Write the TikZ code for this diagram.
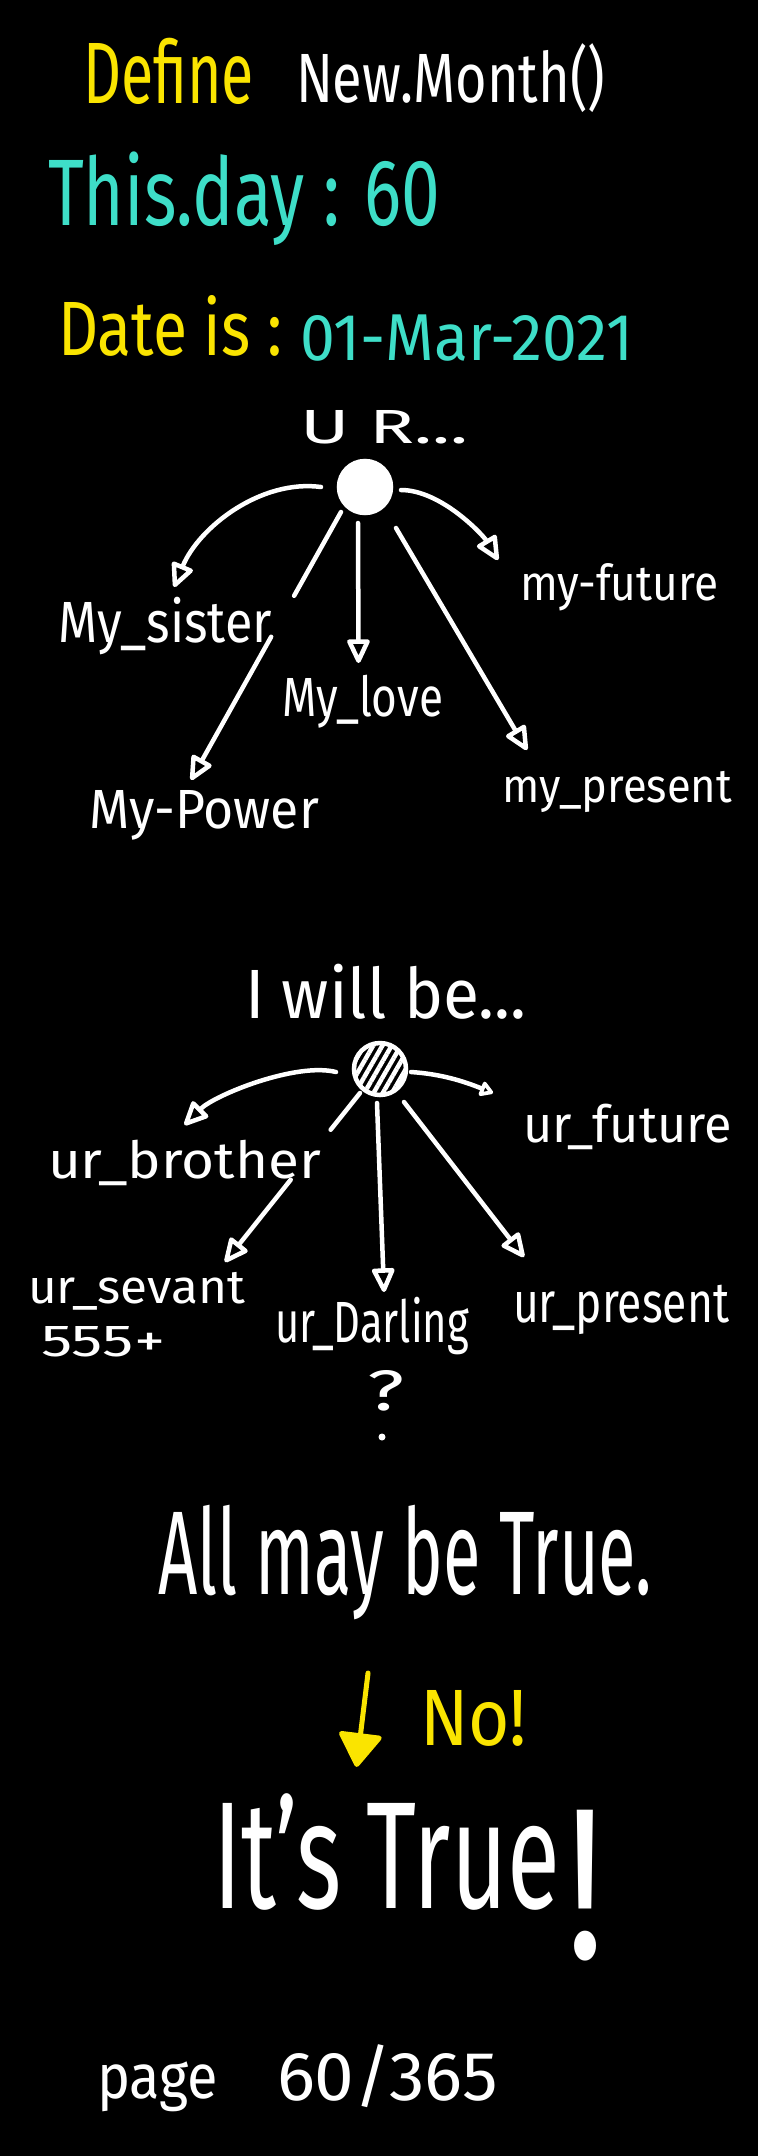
\documentclass[tikz,border=0pt]{standalone}
\usepackage{fontspec}
\setmainfont{Fira Sans}
\usetikzlibrary{arrows.meta,patterns.meta,calc}
\definecolor{hwyellow}{RGB}{250,228,0}
\definecolor{hwcyan}{RGB}{62,222,200}
\newcommand\hwfit[4]{\resizebox{#1pt}{#2pt}{\smash{#4}\vphantom{#3}}}
\begin{document}
\begin{tikzpicture}[x=1pt,y=-1pt,
  lbl/.style={inner sep=0pt,outer sep=0pt,anchor=base west,text=white},
  link/.style={draw=white,line width=4.5pt,line cap=round,
    -{Triangle[open,round,length=27pt,width=24pt]}},
  linksmall/.style={draw=white,line width=4.5pt,line cap=round,
    -{Triangle[open,round,length=15pt,width=17pt]}},
  hub/.style={circle,draw=white,line width=4.5pt,minimum size=52pt,inner sep=0pt}]
\fill[black] (0,0) rectangle (758,2156);
\useasboundingbox (0,0) rectangle (758,2156);

% header
\node[lbl,text=hwyellow] (define) at (83,103) {\hwfit{171}{60}{D}{Define}};
\node[lbl] (newmonth) at (296,102) {\hwfit{309}{48}{H}{New.Month()}};
\node[lbl,text=hwcyan] (thisday) at (48,225) {\hwfit{392}{65}{T}{This.day : 60}};
\node[lbl,text=hwyellow] (dateis) at (58,355) {\hwfit{224}{53}{D}{Date is :}};
\node[lbl,text=hwcyan] (date) at (300,360) {\hwfit{333}{45}{0}{01-Mar-2021}};

% first tree
\node[lbl] (ur) at (300,443) {\hwfit{168}{33}{U}{U R...}};
\node[hub,fill=white] (c1) at (365,487) {};
\node[lbl] (sister) at (58,642) {\hwfit{214}{40}{M}{My\_sister}};
\node[lbl] (future) at (520,600) {\hwfit{198}{26}{x}{my-future}};
\node[lbl] (love) at (282,716) {\hwfit{161}{38}{M}{My\_love}};
\node[lbl] (power) at (89,828) {\hwfit{230}{38}{M}{My-Power}};
\node[lbl] (present) at (502,802) {\hwfit{230}{25}{x}{my\_present}};

\draw[link] ($(c1.center)+(-44,0)$) .. controls +(-60,-8) and +(25,-60) .. ($(sister.north)+(9,-15)$);
\draw[link,dash pattern=on 96pt off 47pt on 400pt] ($(c1.center)+(-24,25)$) -- ($(power.north)+(-13,-10)$);
\draw[link] ($(c1.center)+(-7,36)$) -- ($(love.north)+(-4,-15)$);
\draw[link] ($(c1.center)+(31,41)$) -- ($(present.north west)+(25,-27)$);
\draw[link] ($(c1.center)+(36,3)$) .. controls +(40,0) and +(-15,-25) .. ($(future.north west)+(-22,-14)$);

% second tree
\node[lbl] (willbe) at (245,1018) {\hwfit{281}{48}{I}{I will be...}};
\node[hub,pattern={Lines[angle=60,distance=8pt,line width=4.5pt]},pattern color=white] (c2) at (380,1069) {};
\node[lbl] (brother) at (48,1178) {\hwfit{273}{27}{x}{ur\_brother}};
\node[lbl] (ufuture) at (523,1142) {\hwfit{209}{27}{x}{ur\_future}};
\node[lbl] (servant) at (28,1303) {\hwfit{217}{25}{x}{ur\_sevant}};
\node[lbl] (plus) at (41,1356) {\hwfit{124}{30}{5}{555+}};
\node[lbl] (darling) at (275,1342) {\hwfit{194}{40}{D}{ur\_Darling}};
\node[lbl] (qmark) at (367,1410) {\hwfit{37}{40}{?}{?}};
\node[circle,fill=white,inner sep=0pt,minimum size=7pt] (qdot) at (382,1437) {};
\node[lbl] (upresent) at (513,1322) {\hwfit{216}{30}{x}{ur\_present}};

\draw[link] ($(c2.center)+(-44,3)$) .. controls +(-40,-10) and +(30,-30) .. ($(brother.north)+(0,-26)$);
\draw[link,dash pattern=on 47pt off 64pt on 300pt] ($(c2.center)+(-20,24)$) -- ($(servant.north east)+(-20,-16)$);
\draw[link] ($(c2.center)+(-3,34)$) -- ($(darling.north)+(12,-10)$);
\draw[link] ($(c2.center)+(24,33)$) -- ($(upresent.north west)+(11,-35)$);
\draw[linksmall] ($(c2.center)+(31,3)$) .. controls +(30,2) and +(-30,-12) .. ($(ufuture.north west)+(-30,-22)$);

% conclusion
\node[lbl] (allmay) at (158,1594) {\hwfit{494}{82}{A}{All may be True.}};
\node[lbl,text=hwyellow] (no) at (420,1745) {\hwfit{107}{55}{N}{No!}};
\node[lbl] (itstrue) at (213,1908) {\hwfit{347}{105}{I}{It's True}};
\node[lbl] (bang) at (566,1958) {\hwfit{38}{148}{!}{!}};
\draw[draw=hwyellow,line width=5pt,line cap=round,-{Triangle[round,length=36pt,width=46pt]}]
  ($(allmay.south)+(-37,79)$) -- ($(itstrue.north)+(-30,-36)$);

% footer
\node[lbl] (page) at (97,2098) {\hwfit{121}{33}{x}{page}};
\node[lbl] (pnum) at (277,2100) {\hwfit{221}{47}{0}{60/365}};
\end{tikzpicture}
\end{document}
